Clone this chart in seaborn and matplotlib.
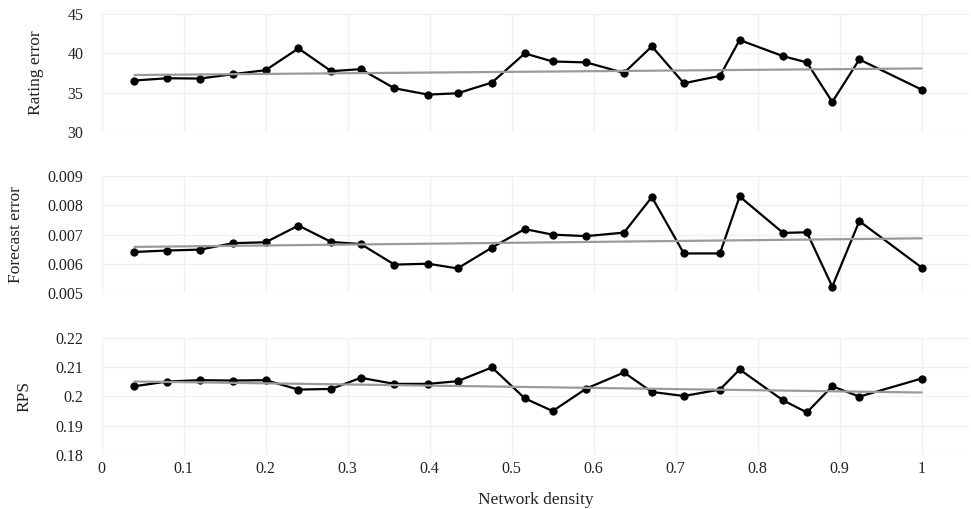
import numpy as np
import pandas as pd
import matplotlib
matplotlib.use("Agg")
import matplotlib.pyplot as plt
import matplotlib.ticker as mticker
import seaborn as sns

# =========================
# Data
# =========================
density = [0.04, 0.08, 0.12, 0.16, 0.20, 0.24, 0.28, 0.316, 0.357, 0.398,
           0.434, 0.476, 0.516, 0.550, 0.591, 0.637, 0.671, 0.710, 0.754,
           0.778, 0.831, 0.860, 0.891, 0.924, 1.0]

rating_error = [36.54, 36.83, 36.79, 37.35, 37.86, 40.64, 37.73, 37.99, 35.55,
                34.74, 34.91, 36.28, 40.0, 38.97, 38.85, 37.51, 40.9, 36.19,
                37.13, 41.71, 39.65, 38.85, 33.8, 39.23, 35.38]

forecast_error = [0.00641, 0.00646, 0.00649, 0.00671, 0.00674, 0.00731, 0.00675,
                  0.00668, 0.00598, 0.00601, 0.00585, 0.00656, 0.00719, 0.00700,
                  0.00695, 0.00707, 0.00828, 0.00636, 0.00636, 0.00830, 0.00706,
                  0.00708, 0.00523, 0.00746, 0.00588]

rps = [0.20343, 0.20503, 0.20549, 0.20537, 0.20549, 0.20229, 0.20251, 0.20629,
       0.20423, 0.20423, 0.20514, 0.20983, 0.19931, 0.19497, 0.20263, 0.20811,
       0.20149, 0.20011, 0.20229, 0.20914, 0.19863, 0.19451, 0.20343, 0.19989,
       0.20606]

panels = [
    ("Rating error", rating_error, [30, 35, 40, 45]),
    ("Forecast error", forecast_error, [0.005, 0.006, 0.007, 0.008, 0.009]),
    ("RPS", rps, [0.18, 0.19, 0.20, 0.21, 0.22]),
]
x_ticks = [0, 0.1, 0.2, 0.3, 0.4, 0.5, 0.6, 0.7, 0.8, 0.9, 1.0]

# =========================
# Style
# =========================
sns.set_theme(style="white")
plt.rcParams["font.family"] = ["Liberation Serif", "DejaVu Serif"]

fig, axes = plt.subplots(3, 1, figsize=(9.71, 5.09), dpi=100, sharex=True)
fig.subplots_adjust(left=0.1047, right=0.999, top=0.972, bottom=0.106, hspace=0.376)

fmt = mticker.FuncFormatter(lambda v, p: f"{v:g}")

for ax, (label, values, yticks) in zip(axes, panels):
    df = pd.DataFrame({"density": density, "value": values})

    sns.lineplot(data=df, x="density", y="value", ax=ax, color="black",
                 linewidth=1.6, marker="o", markersize=5.2,
                 markeredgecolor="black", zorder=2)
    sns.regplot(data=df, x="density", y="value", ax=ax, scatter=False,
                ci=None, color="#9a9a9a", line_kws={"linewidth": 1.6, "zorder": 3})

    ax.set_ylim(yticks[0], yticks[-1])
    ax.set_yticks(yticks)
    ax.set_xlim(0, 1.059)
    ax.set_xticks(x_ticks)
    ax.yaxis.set_major_formatter(fmt)
    ax.xaxis.set_major_formatter(fmt)

    ax.grid(True, color="#f0f0f0", linewidth=1.0)
    ax.set_axisbelow(True)
    for s in ax.spines.values():
        s.set_visible(False)

    ax.tick_params(axis="both", length=0, labelsize=11.5, labelcolor="#222222")
    ax.tick_params(axis="y", pad=13)
    ax.tick_params(axis="x", pad=4)

    ax.set_ylabel(label, fontsize=12.5, color="#222222", labelpad=17)
    ax.set_xlabel("")

axes[-1].set_xlabel("Network density", fontsize=12.5, color="#222222", labelpad=11)

plt.savefig("out.png", dpi=100)
